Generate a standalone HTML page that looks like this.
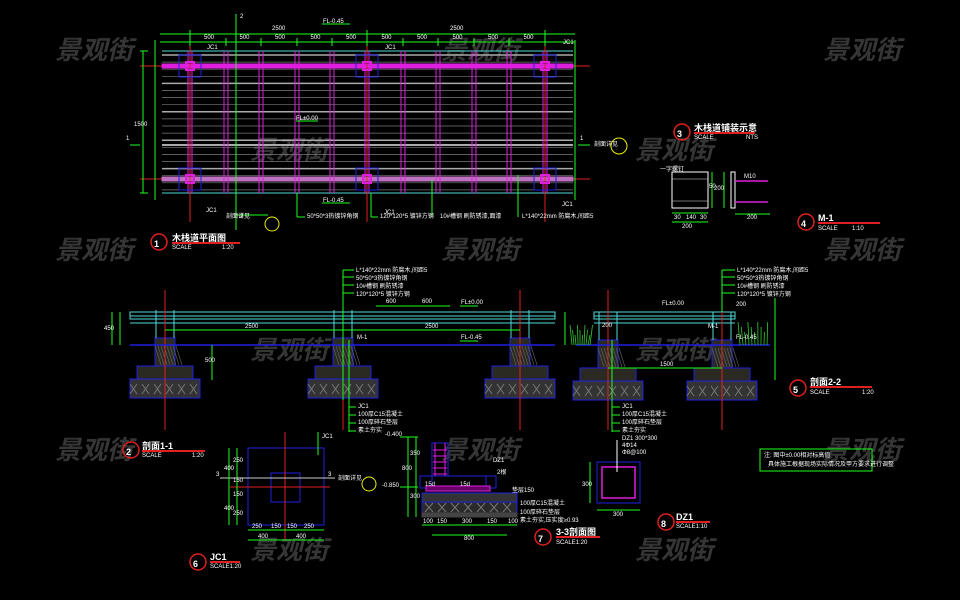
<!DOCTYPE html>
<html><head><meta charset="utf-8"><style>
html,body{margin:0;padding:0;background:#000;width:960px;height:600px;overflow:hidden}
svg{display:block}
text{font-family:"Liberation Sans","Noto Sans CJK SC",sans-serif}
.wm{fill:#353535;font-size:26px;font-style:italic;font-weight:bold;font-family:"Liberation Sans","Noto Sans CJK SC",sans-serif}
.t{fill:#fff;font-size:6px}
.tt{fill:#fff;font-size:9px;font-weight:bold}
</style></head><body>
<svg id="s" width="960" height="600" viewBox="0 0 960 600" xmlns="http://www.w3.org/2000/svg">
<rect width="960" height="600" fill="#000"/>
<g id="wm"></g>
<g id="g" fill="none" stroke-width="1"></g>
<g id="tx"></g>
</svg>
<script>
const NS="http://www.w3.org/2000/svg";
const g=document.getElementById('g'),tx=document.getElementById('tx'),wm=document.getElementById('wm');
function L(x1,y1,x2,y2,c,w){const e=document.createElementNS(NS,'line');e.setAttribute('x1',x1);e.setAttribute('y1',y1);e.setAttribute('x2',x2);e.setAttribute('y2',y2);e.setAttribute('stroke',c);e.setAttribute('stroke-width',w||1);g.appendChild(e);}
function R(x,y,w,h,c,f,sw){const e=document.createElementNS(NS,'rect');e.setAttribute('x',x);e.setAttribute('y',y);e.setAttribute('width',w);e.setAttribute('height',h);e.setAttribute('stroke',c);e.setAttribute('fill',f||'none');e.setAttribute('stroke-width',sw||1);g.appendChild(e);}
function C(x,y,r,c,w){const e=document.createElementNS(NS,'circle');e.setAttribute('cx',x);e.setAttribute('cy',y);e.setAttribute('r',r);e.setAttribute('stroke',c);e.setAttribute('fill','none');e.setAttribute('stroke-width',w||1);g.appendChild(e);}
function T(x,y,s,cls,fill,par){const e=document.createElementNS(NS,'text');e.setAttribute('x',x);e.setAttribute('y',y);e.setAttribute('class',cls||'t');if(fill)e.setAttribute('fill',fill);e.textContent=s;(par||tx).appendChild(e);return e;}
[[95,50],[481,50],[863,50],[290,150],[675,150],[95,250],[481,250],[863,250],[290,350],[675,350],[95,450],[481,450],[863,450],[290,550],[675,550]].forEach(p=>{T(p[0]-40,p[1]+9,'景观街','wm',null,wm);});
const GR='#1cff1c',CY='#4fd8d8',MG='#e01ee0',RD='#e02020',BL='#2020e0',GY='#7a7a7a';
// Plan
let k=0;for(let y=55;y<192;y+=7.1){L(162,y,573,y,k%4==0?'#aaa':GY,k%4==0?1.5:0.7);k++;}
L(162,51,573,51,CY);L(162,193,573,193,CY);
L(162,145,573,145,'#aaa',2);
L(140,66,590,66,RD);L(140,179,590,179,RD);
R(162,64,411,4,MG,MG);R(162,177,411,4,'#c070c0','#c070c0');
[190,226,261,297,332,367,403,438,474,509,545].forEach(x=>{L(x-2,51,x-2,193,MG);L(x+2,51,x+2,193,MG);});
[190,367,545].forEach(x=>{L(x,30,x,222,RD);[66,179].forEach(y=>{R(x-11,y-11,22,22,BL);R(x-4,y-4,8,8,MG,'none',2);});});
L(160,42,575,42,GR);L(160,34,575,34,GR);
[190,226,261,297,332,367,403,438,474,509,545].forEach(x=>L(x,38,x,46,GR));
[190,367,545].forEach(x=>L(x,30,x,38,GR));
for(let i=0;i<10;i++)T(204+i*35.5,39,'500');
T(272,30,'2500');T(450,30,'2500');
L(143,51,143,193,GR);T(134,126,'1500');L(140,51,148,51,GR);L(140,193,148,193,GR);
L(155,40,155,200,GR);L(575,40,575,200,GR);
L(236,14,236,230,GR);T(240,18,'2');T(240,218,'2');
L(130,145,140,145,GR);T(126,140,'1');L(578,145,590,145,GR);T(580,140,'1');T(594,146,'剖面详见');C(619,146,8,'#ee0');
T(226,218,'剖面详见');C(272,224,7,'#ee0');L(236,215,268,215,GR);
T(323,23,'FL-0.45');L(322,24,350,24,GR);T(296,120,'FL±0.00');L(296,121,318,121,GR);T(323,202,'FL-0.45');L(322,203,350,203,GR);
T(206,212,'JC1');T(384,214,'JC1');T(562,206,'JC1');T(207,49,'JC1');T(385,49,'JC1');T(563,44,'JC1');
L(297,193,297,217,GR);L(297,217,305,217,GR);T(307,218,'50*50*3热镀锌角钢');
L(371,193,371,217,GR);L(371,217,378,217,GR);T(380,218,'120*120*5 镀锌方钢');
L(432,180,432,217,GR);T(440,218,'10#槽钢 刷防锈漆,面漆');
L(518,175,518,217,GR);T(522,218,'L*140*22mm 防腐木,间距5');
C(159,242,8,RD,1.5);T(154,247,'1','tt');T(172,241,'木栈道平面图','tt');T(172,249,'SCALE');T(222,249,'1:20');L(172,243,240,243,RD,2);
// Section 1-1
function footing(cx,y0){R(cx-10,y0,20,8,MG,'#303');R(cx-10,y0,20,28,BL,'#2a2a22');R(cx-28,y0+28,56,13,BL,'#2a2a22');R(cx-35,y0+41,70,19,BL,'#333');
for(let i=0;i<6;i++){L(cx-35+i*12,y0+46,cx-28+i*12,y0+56,'#777');L(cx-28+i*12,y0+46,cx-35+i*12,y0+56,'#777');}
for(let i=0;i<8;i++)L(cx-10+i*3,y0+8,cx-10+i*3+6,y0+27,'#666',0.6);
L(cx-9,y0-28,cx-9,y0,CY);L(cx+9,y0-28,cx+9,y0,CY);}
R(130,312,425,4,CY);R(130,316,425,3,CY);L(130,323,555,323,CY);
[165,343,520].forEach(x=>{footing(x,338);L(x,290,x,430,RD);});
L(130,345,555,345,BL,1.5);
L(165,330,520,330,GR);T(245,328,'2500');T(425,328,'2500');
L(376,306,450,306,GR);T(386,303,'600');T(422,303,'600');
T(461,304,'FL±0.00');T(461,339,'FL-0.45');L(460,341,478,341,GR);L(460,306,478,306,GR);
T(357,339,'M-1');
L(343,270,343,400,GR);[270,277,285,293].forEach(y=>L(343,y,354,y,GR));
T(356,272,'L*140*22mm 防腐木,间距5');T(356,280,'50*50*3热镀锌角钢');T(356,288,'10#槽钢 刷防锈漆');T(356,296,'120*120*5 镀锌方钢');
L(349,340,349,432,GR);[407,415,423,431].forEach(y=>L(349,y,356,y,GR));
T(358,408,'JC1');T(358,416,'100厚C15混凝土');T(358,424,'100厚碎石垫层');T(358,432,'素土夯实');
L(112,312,112,345,GR);T(104,330,'450');L(120,312,120,345,GR);L(212,345,212,380,GR);T(205,362,'500');
C(131,450,8,RD,1.5);T(126,455,'2','tt');T(142,449,'剖面1-1','tt');T(142,457,'SCALE');T(192,457,'1:20');L(142,451,205,451,RD,2);
// Section 2-2
R(594,312,141,4,CY);R(594,316,141,3,CY);L(594,323,735,323,CY);
[608,722].forEach(x=>{footing(x,340);L(x,290,x,430,RD);});
L(576,345,770,345,BL,1.5);L(608,368,722,368,GR);T(660,366,'1500');
T(662,305,'FL±0.00');T(736,339,'FL-0.45');T(736,306,'200');T(708,328,'M-1');T(602,327,'200');
L(722,270,722,312,GR);[270,277,285,293].forEach(y=>L(722,y,735,y,GR));
T(737,272,'L*140*22mm 防腐木,间距5');T(737,280,'50*50*3热镀锌角钢');T(737,288,'10#槽钢 刷防锈漆');T(737,296,'120*120*5 镀锌方钢');
L(612,340,612,432,GR);[407,415,423,431].forEach(y=>L(612,y,620,y,GR));
T(622,408,'JC1');T(622,416,'100厚C15混凝土');T(622,424,'100厚碎石垫层');T(622,432,'素土夯实');
L(565,312,565,345,GR);L(775,298,775,380,GR);
for(let i=0;i<10;i++){L(572+i*2,345,570+i*2.5,325+(i%3)*5,'#3c3',0.8);L(740+i*3,345,738+i*3.3,322+(i%3)*5,'#3c3',0.8);}
C(798,388,8,RD,1.5);T(793,393,'5','tt');T(810,385,'剖面2-2','tt');T(810,394,'SCALE');T(862,394,'1:20');L(810,387,872,387,RD,2);
// Detail 3/4
C(682,132,8,RD,1.5);T(677,137,'3','tt');T(694,131,'木栈道铺装示意','tt');T(694,139,'SCALE');T(746,139,'NTS');L(694,133,755,133,RD,2);
R(672,172,36,36,'#fff');L(672,179,708,179,'#ddd',0.5);L(672,201,708,201,'#ddd',0.5);
L(712,172,712,208,GR);L(724,172,724,208,GR);T(709,188,'50');T(714,190,'200');
L(672,213,708,213,GR);L(672,222,708,222,GR);T(674,219,'30');T(686,219,'140');T(700,219,'30');T(682,228,'200');
R(731,172,4,36,'#fff');L(735,181,768,181,MG,1.5);L(735,202,768,202,MG,1.5);T(744,178,'M10');L(735,214,770,214,GR);T(747,219,'200');T(660,171,'一字螺钉');
C(806,222,8,RD,1.5);T(801,227,'4','tt');T(818,221,'M-1','tt');T(818,230,'SCALE');T(852,230,'1:10');L(818,223,880,223,RD,2);
// JC1
R(248,448,76,77,BL);R(271,473,29,29,BL);L(285,432,285,540,RD);L(230,487,330,487,RD);L(220,478,335,478,'#ccc');
L(229,448,229,525,GR);L(237,448,237,525,GR);T(224,470,'400');T(224,510,'400');T(233,462,'250');T(233,482,'150');T(233,496,'150');T(233,515,'250');
L(248,530,324,530,GR);L(248,540,324,540,GR);T(252,528,'250');T(271,528,'150');T(287,528,'150');T(304,528,'250');T(258,538,'400');T(296,538,'400');
T(322,438,'JC1');L(318,432,318,455,GR);T(216,476,'3');T(328,476,'3');T(338,480,'剖面详见');C(369,484,7,'#ee0');
C(198,562,8,RD,1.5);T(193,567,'6','tt');T(210,560,'JC1','tt');T(210,568,'SCALE1:20');L(210,562,240,562,RD,2);
// 3-3
R(432,443,16,33,BL);for(let y=450;y<476;y+=6)L(433,y,447,y,MG);L(435,443,435,476,MG);L(445,443,445,476,MG);
R(432,476,54,11,BL);R(420,476,76,12,BL);R(426,486,64,5,MG,'#606');
R(422,493,95,9,BL,'#333');R(422,502,95,11,BL,'#2a2a2a');for(let i=0;i<7;i++){L(425+i*13,503,433+i*13,512,'#777');L(433+i*13,503,425+i*13,512,'#777');}
R(422,513,95,4,'#444','#444');T(425,486,'15d');T(460,486,'15d');T(493,462,'DZ1');T(497,474,'2根');T(512,492,'垫层150');T(520,505,'100厚C15混凝土');T(520,514,'100厚碎石垫层');T(520,522,'素土夯实,压实度≥0.93');
L(400,437,418,437,GR);T(385,436,'-0.400');L(400,487,418,487,GR);T(382,487,'-0.850');
L(408,437,408,517,GR);L(416,437,416,517,GR);T(402,470,'800');T(410,455,'350');T(410,498,'300');
L(422,525,517,525,GR);L(432,535,507,535,GR);T(423,523,'100');T(437,523,'150');T(462,523,'300');T(487,523,'150');T(508,523,'100');T(464,540,'800');
C(543,537,8,RD,1.5);T(538,542,'7','tt');T(556,535,'3-3剖面图','tt');T(556,544,'SCALE1:20');L(556,537,600,537,RD,2);
// DZ1
R(597,462,43,41,BL);R(602,467,33,31,MG,'none',1.5);L(590,462,590,503,GR);T(582,486,'300');L(597,510,640,510,GR);T(613,516,'300');
L(617,440,617,472,'#fff');T(622,440,'DZ1 300*300');T(622,447,'4Φ14');T(622,454,'Φ8@100');
C(666,522,8,RD,1.5);T(661,527,'8','tt');T(676,520,'DZ1','tt');T(676,528,'SCALE1:10');L(676,522,710,522,RD,2);
R(760,449,112,22,GR);T(764,457,'注: 图中±0.00相对标高值');T(768,466,'具体施工根据现场实际情况及甲方要求进行调整');
</script>
</body></html>
